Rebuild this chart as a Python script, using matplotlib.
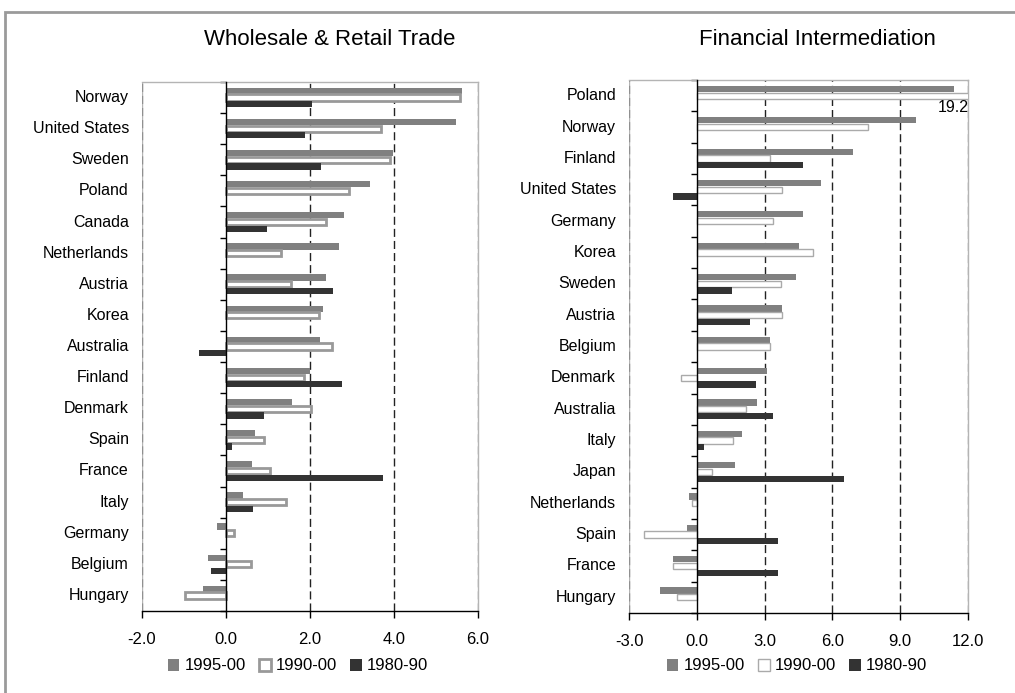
import numpy as np
import matplotlib
matplotlib.use("Agg")
import matplotlib.pyplot as plt
from matplotlib.patches import Patch, Rectangle
from matplotlib.ticker import FormatStrFormatter, FixedLocator
from matplotlib.transforms import blended_transform_factory, offset_copy

plt.rcParams['font.family'] = ['Liberation Sans', 'DejaVu Sans']
plt.rcParams['axes.unicode_minus'] = False

series_names = ["1995-00", "1990-00", "1980-90"]

# Wholesale & Retail Trade (top to bottom)
trade_countries = ["Norway", "United States", "Sweden", "Poland", "Canada",
                   "Netherlands", "Austria", "Korea", "Australia", "Finland",
                   "Denmark", "Spain", "France", "Italy", "Germany",
                   "Belgium", "Hungary"]
trade_1995_00 = [5.61, 5.48, 3.97, 3.44, 2.80, 2.69, 2.37, 2.31, 2.24, 2.00,
                 1.57, 0.69, 0.62, 0.40, -0.21, -0.43, -0.55]
trade_1990_00 = [5.57, 3.68, 3.90, 2.94, 2.37, 1.31, 1.55, 2.21, 2.53, 1.86,
                 2.02, 0.90, 1.05, 1.43, 0.20, 0.59, -0.98]
trade_1980_90 = [2.04, 1.87, 2.25, np.nan, 0.97, np.nan, 2.54, np.nan, -0.64,
                 2.76, 0.90, 0.14, 3.74, 0.64, np.nan, -0.36, np.nan]

# Financial Intermediation (top to bottom)
fin_countries = ["Poland", "Norway", "Finland", "United States", "Germany",
                 "Korea", "Sweden", "Austria", "Belgium", "Denmark",
                 "Australia", "Italy", "Japan", "Netherlands", "Spain",
                 "France", "Hungary"]
fin_1995_00 = [11.40, 9.72, 6.90, 5.49, 4.69, 4.51, 4.38, 3.76, 3.24, 3.10,
               2.66, 2.00, 1.69, -0.34, -0.43, -1.04, -1.62]
fin_1990_00 = [19.2, 7.59, 3.26, 3.75, 3.35, 5.16, 3.71, 3.78, 3.24, -0.72,
               2.19, 1.60, 0.66, -0.22, -2.32, -1.07, -0.87]
fin_1980_90 = [np.nan, np.nan, 4.69, -1.04, np.nan, np.nan, 1.56, 2.35, np.nan,
               2.62, 3.37, 0.32, 6.50, np.nan, 3.59, 3.59, np.nan]

GREY = "#808080"
DARK = "#333333"
LIGHT = "#b4b4b4"

W, H = 1015, 693
fig = plt.figure(figsize=(W / 100, H / 100), dpi=100)
fig.patch.set_facecolor("white")


def px_axes(x0, y0, x1, y1):
    return fig.add_axes([x0 / W, 1 - y1 / H, (x1 - x0) / W, (y1 - y0) / H])


def panel(ax, countries, s1, s2, s3, xlim, ticks, white_edge, white_lw):
    n = len(countries)
    y = np.arange(n)
    step, h = 0.215, 0.2
    ax.barh(y - step, s1, height=h, color=GREY, linewidth=0, zorder=3)
    ax.barh(y, s2, height=h, color="white", edgecolor=white_edge,
            linewidth=white_lw, zorder=3)
    ax.barh(y + step, s3, height=h, color=DARK, linewidth=0, zorder=3)
    ax.set_ylim(n - 0.5, -0.5)
    ax.set_xlim(*xlim)

    # interior gridlines dashed dark, outer ones dashed grey
    for t in ticks[1:-1]:
        if t != 0:
            ax.axvline(t, color="#222222", lw=1.0, ls=(0, (5.8, 2.9)), zorder=1)
    for t in (ticks[0], ticks[-1]):
        ax.axvline(t, color="#909090", lw=1.0, ls=(0, (5.8, 2.9)), zorder=1)

    for side in ("top", "right"):
        ax.spines[side].set_color(LIGHT)
        ax.spines[side].set_linewidth(1.0)
    ax.spines["left"].set_position(("data", 0))
    ax.spines["left"].set_color("black")
    ax.spines["left"].set_linewidth(1.0)
    ax.spines["left"].set_zorder(4)
    ax.spines["bottom"].set_color("black")
    ax.spines["bottom"].set_linewidth(1.0)
    ax.axvline(xlim[0], color=LIGHT, lw=1.0, zorder=0)

    ax.yaxis.set_major_locator(FixedLocator(np.arange(-0.5, n, 1.0)))
    ax.tick_params(axis="y", direction="out", length=4, width=1,
                   labelleft=False, color="black")
    ax.set_xticks(ticks)
    ax.xaxis.set_major_formatter(FormatStrFormatter("%.1f"))
    ax.tick_params(axis="x", direction="out", length=5, width=1, pad=10,
                   labelsize=12, color="black")

    trans = offset_copy(blended_transform_factory(ax.transAxes, ax.transData),
                        fig=fig, x=-13, y=0, units="dots")
    for yi, name in zip(y, countries):
        ax.text(0, yi, name, transform=trans, ha="right", va="center",
                fontsize=11.5)


def legend_for(xc, white_edge, white_lw):
    handles = [Patch(facecolor=GREY, edgecolor=GREY, linewidth=0),
               Patch(facecolor="white", edgecolor=white_edge, linewidth=white_lw),
               Patch(facecolor=DARK, edgecolor=DARK, linewidth=0)]
    fig.legend(handles, series_names, loc="center", ncol=3,
               bbox_to_anchor=(xc / W, 1 - 666 / H), frameon=False,
               fontsize=12, handlelength=0.7, handleheight=0.7,
               handletextpad=0.3, columnspacing=0.8, borderaxespad=0)


ax1 = px_axes(142, 82, 478, 611)
panel(ax1, trade_countries, trade_1995_00, trade_1990_00, trade_1980_90,
      (-2, 6), [-2, 0, 2, 4, 6], "#999999", 2.0)

ax2 = px_axes(629, 80, 968, 613)
panel(ax2, fin_countries, fin_1995_00, fin_1990_00, fin_1980_90,
      (-3, 12), [-3, 0, 3, 6, 9, 12], "#aaaaaa", 1.0)

# value of the bar running off the scale
ax2.annotate(f"{fin_1990_00[0]:.1f}", xy=(12, 0), xycoords="data",
             xytext=(1, -12), textcoords="offset pixels",
             ha="right", va="center", fontsize=11.5)

fig.text(330 / W, 1 - 45 / H, "Wholesale & Retail Trade", ha="center",
         va="baseline", fontsize=16)
fig.text(817 / W, 1 - 45 / H, "Financial Intermediation", ha="center",
         va="baseline", fontsize=16)

legend_for(298, "#999999", 2.0)
legend_for(797, "#aaaaaa", 1.0)

# outer frame
fig.add_artist(Rectangle((5 / W, -0.05), 1.2, 1 - 12 / H + 0.05,
                         transform=fig.transFigure, fill=False,
                         edgecolor="#9a9a9a", linewidth=2.0))

fig.savefig("out.png", dpi=100)
